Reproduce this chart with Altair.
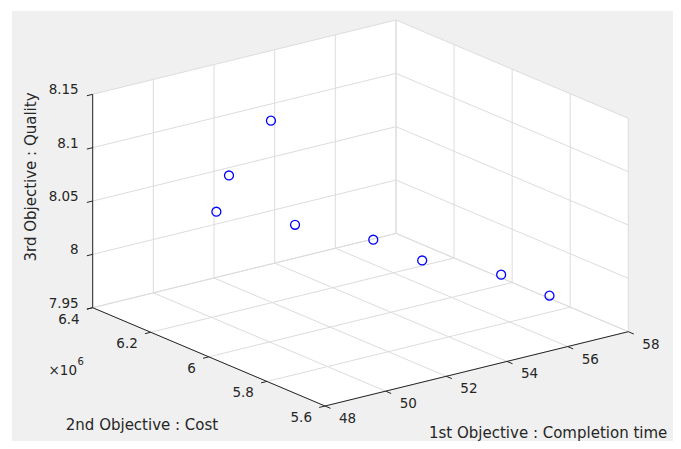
import numpy as np
import pandas as pd
import altair as alt

# ---------------- data ----------------
completion_time = [50, 51, 52, 52, 53, 54, 56, 57]
cost = [6.183e6, 6.244e6, 6.204e6, 6.121e6, 5.956e6, 5.892e6, 5.829e6, 5.767e6]
quality = [8.051, 8.071, 8.120, 8.032, 8.030, 8.011, 7.991, 7.9715]

time_ticks = [48, 50, 52, 54, 56, 58]
time_tick_labels = ["48", "50", "52", "54", "56", "58"]
cost_ticks = [5.6e6, 5.8e6, 6.0e6, 6.2e6, 6.4e6]
cost_tick_labels = ["5.6", "5.8", "6", "6.2", "6.4"]
quality_ticks = [7.95, 8.0, 8.05, 8.1, 8.15]
quality_tick_labels = ["7.95", "8", "8.05", "8.1", "8.15"]

x_title = "1st Objective : Completion time"
y_title = "2nd Objective : Cost"
z_title = "3rd Objective : Quality"

# ---------------- 3D view (oblique projection onto the page) ----------------
T0, T1 = time_ticks[0], time_ticks[-1]
C0, C1 = cost_ticks[0], cost_ticks[-1]
Q0, Q1 = quality_ticks[0], quality_ticks[-1]
ORIGIN = (325.0, 406.0)      # page position of (T0, C0, Q0)
VT = (303.3, -74.3)          # screen vector of the full time range
VC = (-232.3, -98.3)         # screen vector of the full cost range
VQ = (0.0, -213.4)           # screen vector of the full quality range


def proj(t, c, q):
    ft = (np.asarray(t, dtype=float) - T0) / (T1 - T0)
    fc = (np.asarray(c, dtype=float) - C0) / (C1 - C0)
    fq = (np.asarray(q, dtype=float) - Q0) / (Q1 - Q0)
    px = ORIGIN[0] + ft * VT[0] + fc * VC[0] + fq * VQ[0]
    py = ORIGIN[1] + ft * VT[1] + fc * VC[1] + fq * VQ[1]
    return px, py


def unit(v, n):
    l = (v[0] ** 2 + v[1] ** 2) ** 0.5
    return (v[0] / l * n, v[1] / l * n)


FONT = "DejaVu Sans"
TXT = "#262626"
W, H = 665, 433

xs = alt.Scale(domain=[8, 8 + W], nice=False, zero=False)
ys = alt.Scale(domain=[8 + H, 8], nice=False, zero=False)
X = lambda f="px": alt.X(f"{f}:Q", scale=xs, axis=None)
Y = lambda f="py": alt.Y(f"{f}:Q", scale=ys, axis=None)

# background (figure colour)
bg = pd.DataFrame({"px": [12], "px2": [8 + W], "py": [11], "py2": [8 + H]})
bg_layer = alt.Chart(bg).mark_rect(color="#f0f0f0").encode(
    x=X(), x2="px2:Q", y=Y(), y2="py2:Q")

# white back planes + floor
top = [proj(T0, C1, Q1), proj(T1, C1, Q1), proj(T1, C0, Q1)]
bot = [proj(T0, C1, Q0), proj(T0, C0, Q0), proj(T1, C0, Q0)]
tx, ty = [float(p[0]) for p in top], [float(p[1]) for p in top]
bx, by = [float(p[0]) for p in bot], [float(p[1]) for p in bot]
allx = sorted(set(tx + bx))
box = pd.DataFrame({"px": allx,
                    "py": np.interp(allx, tx, ty),
                    "py2": np.interp(allx, bx, by)})
box_layer = alt.Chart(box).mark_area(color="white", opacity=1).encode(
    x=X(), y=Y(), y2="py2:Q")

# grid lines
segs = []


def seg(a, b, kind):
    p, q = proj(*a), proj(*b)
    segs.append({"px": float(p[0]), "py": float(p[1]),
                 "px2": float(q[0]), "py2": float(q[1]), "kind": kind})


for t in time_ticks:
    seg((t, C1, Q0), (t, C1, Q1), "grid")
    seg((t, C0, Q0), (t, C1, Q0), "grid")
for q in quality_ticks:
    seg((T0, C1, q), (T1, C1, q), "grid")
    seg((T1, C0, q), (T1, C1, q), "grid")
for c in cost_ticks:
    seg((T1, c, Q0), (T1, c, Q1), "grid")
    seg((T0, c, Q0), (T1, c, Q0), "grid")
grid = pd.DataFrame(segs)
grid_layer = alt.Chart(grid).mark_rule(color="#dcdcdc", strokeWidth=1).encode(
    x=X(), y=Y(), x2="px2:Q", y2="py2:Q")

# axis lines and ticks
segs = []
seg((T0, C1, Q0), (T0, C1, Q1), "axis")
seg((T0, C0, Q0), (T0, C1, Q0), "axis")
seg((T0, C0, Q0), (T1, C0, Q0), "axis")
axes = pd.DataFrame(segs)
tk = []
dT = unit((-VT[0], -VT[1]), 6)
dC = unit((-VC[0], -VC[1]), 6)
for q in quality_ticks:
    x0, y0 = proj(T0, C1, q)
    tk.append({"px": float(x0), "py": float(y0), "px2": float(x0 + dT[0]), "py2": float(y0 + dT[1])})
for c in cost_ticks:
    x0, y0 = proj(T0, c, Q0)
    tk.append({"px": float(x0), "py": float(y0), "px2": float(x0 + dT[0]), "py2": float(y0 + dT[1])})
for t in time_ticks:
    x0, y0 = proj(t, C0, Q0)
    tk.append({"px": float(x0), "py": float(y0), "px2": float(x0 + dC[0]), "py2": float(y0 + dC[1])})
axes = pd.concat([axes, pd.DataFrame(tk)], ignore_index=True)
axis_layer = alt.Chart(axes).mark_rule(color=TXT, strokeWidth=1).encode(
    x=X(), y=Y(), x2="px2:Q", y2="py2:Q")

# data points
px, py = proj(completion_time, cost, quality)
pts = pd.DataFrame({"time": completion_time, "cost": cost, "quality": quality,
                    "px": px, "py": py})
pt_layer = alt.Chart(pts).mark_point(shape="circle", filled=False, color="#0000ff",
                                     size=80, strokeWidth=1.3, opacity=1).encode(
    x=X(), y=Y())

# tick labels
zx, zy = proj([T0] * len(quality_ticks), [C1] * len(quality_ticks), quality_ticks)
zlab = pd.DataFrame({"px": zx - 14, "py": zy - 4, "label": quality_tick_labels})
cx, cy = proj([T0] * len(cost_ticks), cost_ticks, [Q0] * len(cost_ticks))
clab = pd.DataFrame({"px": cx - 13, "py": cy + 12, "label": cost_tick_labels})
txx, txy = proj(time_ticks, [C0] * len(time_ticks), [Q0] * len(time_ticks))
tlab = pd.DataFrame({"px": txx + 14, "py": txy + 13, "label": time_tick_labels})


def labels(df, align):
    return alt.Chart(df).mark_text(font=FONT, fontSize=13.5, color=TXT, align=align,
                                   baseline="middle").encode(x=X(), y=Y(), text="label:N")


titles = pd.DataFrame({
    "px": [31, 142, 429],
    "py": [177, 425, 433],
    "label": [z_title, y_title, x_title],
})
ztitle = alt.Chart(titles.iloc[[0]]).mark_text(font=FONT, fontSize=15, color=TXT, angle=270,
                                               align="center", baseline="middle").encode(
    x=X(), y=Y(), text="label:N")
ytitle = alt.Chart(titles.iloc[[1]]).mark_text(font=FONT, fontSize=15, color=TXT,
                                               align="center", baseline="middle").encode(
    x=X(), y=Y(), text="label:N")
xtitle = alt.Chart(titles.iloc[[2]]).mark_text(font=FONT, fontSize=15, color=TXT,
                                               align="left", baseline="middle").encode(
    x=X(), y=Y(), text="label:N")

# exponent label of the cost axis
expo = pd.DataFrame({"px": [77], "py": [371], "label": ["\u00d710"]})
expo6 = pd.DataFrame({"px": [77.5], "py": [362], "label": ["6"]})
expo_layer = alt.Chart(expo).mark_text(font=FONT, fontSize=13.5, color=TXT, align="right",
                                       baseline="middle").encode(x=X(), y=Y(), text="label:N")
expo6_layer = alt.Chart(expo6).mark_text(font=FONT, fontSize=10, color=TXT, align="left",
                                         baseline="middle").encode(x=X(), y=Y(), text="label:N")

chart = alt.layer(
    bg_layer, box_layer, grid_layer, axis_layer, pt_layer,
    labels(zlab, "right"), labels(clab, "right"), labels(tlab, "left"),
    ztitle, ytitle, xtitle, expo_layer, expo6_layer,
).properties(
    width=W, height=H, padding=0,
    autosize=alt.AutoSizeParams(type="none"),
    background="white",
).configure_view(stroke=None)

chart.save("out.html", embed_options={"renderer": "svg", "actions": False})
